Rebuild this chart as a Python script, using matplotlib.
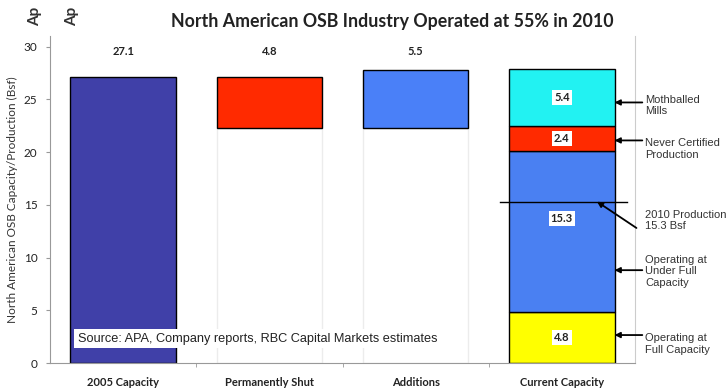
import matplotlib
matplotlib.use("Agg")
import matplotlib.pyplot as plt

# Waterfall categories and values (billion square feet, Bsf)
categories = ["2005 Capacity", "Permanently Shut", "Additions", "Current Capacity"]
capacity_2005 = 27.1
permanently_shut = 4.8
additions = 5.5

# Composition of current capacity, bottom to top
current_labels = ["Operating at\nFull Capacity", "Operating at\nUnder Full\nCapacity",
                  "Never Certified\nProduction", "Mothballed\nMills"]
current_values = [4.8, 15.3, 2.4, 5.4]
current_colors = ["#FFFF00", "#4A80F2", "#FF2A00", "#22F2F2"]

production_2010 = 15.3

title = "North American OSB Industry Operated at 55% in 2010"
ylabel = "North American OSB Capacity/Production (Bsf)"
source = "Source: APA, Company reports, RBC Capital Markets estimates"
y_ticks = [0, 5, 10, 15, 20, 25, 30]

W, H = 727, 389
fig = plt.figure(figsize=(W / 100, H / 100), dpi=100)
ax = fig.add_axes([50 / W, 1 - 363 / H, 585 / W, (363 - 36) / H])

x = range(len(categories))
bw = 0.72
edge = dict(edgecolor="black", linewidth=1.0)

# 2005 capacity
ax.bar(0, capacity_2005, bw, color="#4040A8", **edge)

# Permanently shut: floating bar with a faint invisible base
shut_base = capacity_2005 - permanently_shut
ax.bar(1, shut_base, bw, facecolor="none", edgecolor="#ececec", linewidth=1.0)
ax.bar(1, permanently_shut, bw, bottom=shut_base, color="#FF2A00", **edge)

# Additions
ax.bar(2, shut_base, bw, facecolor="none", edgecolor="#ececec", linewidth=1.0)
ax.bar(2, additions, bw, bottom=shut_base, color="#4A80F8", **edge)

# Current capacity stack
bottom = 0.0
mids = []
for v, c in zip(current_values, current_colors):
    ax.bar(3, v, bw, bottom=bottom, color=c, **edge)
    mids.append(bottom + v / 2)
    bottom += v

# value labels above the waterfall bars
top_labels = [capacity_2005, permanently_shut, additions]
for i, v in enumerate(top_labels):
    ax.text(i, 29.5, f"{v:.1f}", ha="center", va="center", fontsize=8,
            fontweight="bold", family="Lato", color="#222222")

# boxed segment labels
seg_label_y = [mids[0], 13.7, mids[2], mids[3]]
for v, yy in zip(current_values, seg_label_y):
    ax.text(3, yy, f"{v:.1f}", ha="center", va="center", fontsize=8,
            fontweight="bold", family="Lato", color="#222222",
            bbox=dict(facecolor="white", edgecolor="none", pad=1.5))

# 2010 production marker line
ax.plot([2.58, 3.445], [production_2010, production_2010], color="black",
        linewidth=1.0, clip_on=False, zorder=4)

# right-hand annotations
arrow = dict(arrowstyle="-|>", color="black", lw=1.3, mutation_scale=8,
             shrinkA=0, shrinkB=0)
txt = dict(ha="left", va="center", fontsize=8, family="Liberation Sans",
           color="#333333", linespacing=1.2, clip_on=False)
x_tip = 3 + bw / 2
x_tail = 3.55
x_text = 3.57

ann = [
    (current_labels[3], mids[3] - 0.5, 24.4),
    (current_labels[2], mids[2] - 0.2, 20.3),
    (current_labels[1], 8.8, 8.7),
    (current_labels[0], 2.65, 1.8),
]
for label, ya, yt in ann:
    ax.annotate("", xy=(x_tip, ya), xytext=(x_tail, ya), arrowprops=arrow,
                annotation_clip=False)
    ax.text(x_text, yt, label, **txt)

ax.annotate("", xy=(3.24, production_2010), xytext=(3.51, production_2010 - 2.5),
            arrowprops=arrow, annotation_clip=False)
ax.text(x_text, 13.5, f"2010 Production\n{production_2010} Bsf", **txt)

# source note
ax.text(-0.31, 2.3, source, ha="left", va="center", fontsize=9.2,
        family="Liberation Sans", color="#222222",
        bbox=dict(facecolor="white", edgecolor="none", pad=2.5), zorder=5)

# axes styling
ax.set_xlim(-0.5, 3.5)
ax.set_ylim(0, 31)
ax.set_yticks(y_ticks)
ax.set_yticklabels([str(t) for t in y_ticks], family="Lato", fontsize=8.5,
                   color="#222222")
ax.set_xticks(list(x))
ax.set_xticklabels(categories, family="Lato", fontweight="bold", fontsize=8,
                   color="#222222")
ax.set_xticks([0.5, 1.5, 2.5], minor=True)
ax.tick_params(axis="x", which="major", length=0, pad=10)
ax.tick_params(axis="x", which="minor", length=3, color="#999999", direction="out")
ax.tick_params(axis="y", length=3, color="#999999", pad=6)
ax.set_ylabel(ylabel, family="Lato", fontsize=8.5, color="#333333", labelpad=4)
for s in ["left", "bottom"]:
    ax.spines[s].set_color("#999999")
ax.spines["right"].set_color("#cccccc")
ax.spines["top"].set_visible(False)

fig.text(392 / W, 1 - 22 / H, title, ha="center", va="center", fontsize=12.8,
         fontweight="bold", family="Lato", color="#222222")

# clipped fragments at the top-left edge
for xp in (35, 72):
    fig.text(xp / W, 1 - 26 / H, "Ap", rotation=90, ha="center", va="bottom",
             fontsize=11, fontweight="bold", family="Lato", color="#333333")

fig.savefig("out.png", dpi=100, facecolor="white")
